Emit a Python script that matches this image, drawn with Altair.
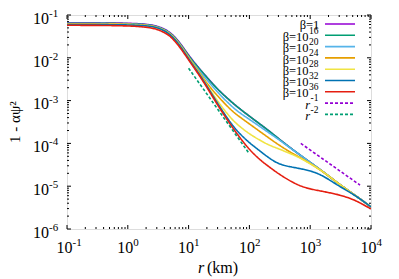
import altair as alt
import pandas as pd

# radius grid (km)
r = [0.1, 0.3, 1, 2, 3, 4, 5, 7, 10, 15, 20, 30, 50, 70, 100, 150, 200, 300,
     500, 700, 1000, 1500, 2000, 3000, 5000, 7000, 10000]

b_1 = [0.0655, 0.0655, 0.0646, 0.0613, 0.0558, 0.0470, 0.0392, 0.0242, 0.0114, 5.6e-3,
       3.52e-3, 1.82e-3, 9.46e-4, 6.35e-4, 4.33e-4, 2.81e-4, 2.07e-4, 1.3e-4, 7.4e-5,
       5.2e-5, 3.6e-5, 2.38e-5, 1.74e-5, 1.12e-5, 6.7e-6, 4.78e-6, 3.27e-6]
b_16 = [0.0643, 0.0643, 0.0633, 0.0600, 0.0545, 0.0458, 0.0380, 0.0234, 0.0110, 5.5e-3,
        3.49e-3, 1.82e-3, 9.46e-4, 6.35e-4, 4.33e-4, 2.81e-4, 2.07e-4, 1.3e-4, 7.4e-5,
        5.2e-5, 3.6e-5, 2.38e-5, 1.74e-5, 1.12e-5, 6.7e-6, 4.78e-6, 3.27e-6]
b_20 = [0.0630, 0.0630, 0.0622, 0.0590, 0.0536, 0.0448, 0.0370, 0.0226, 0.0103, 4.98e-3,
        3.05e-3, 1.55e-3, 7.5e-4, 5.1e-4, 3.65e-4, 2.45e-4, 1.85e-4, 1.25e-4, 7.3e-5,
        5.2e-5, 3.6e-5, 2.38e-5, 1.74e-5, 1.12e-5, 6.7e-6, 4.78e-6, 3.27e-6]
b_24 = [0.0620, 0.0620, 0.0612, 0.0582, 0.0530, 0.0442, 0.0366, 0.0222, 0.0101, 4.65e-3,
        2.5e-3, 1.28e-3, 5.9e-4, 4.1e-4, 2.85e-4, 1.88e-4, 1.40e-4, 9.3e-5, 5.9e-5,
        4.6e-5, 3.4e-5, 2.35e-5, 1.74e-5, 1.12e-5, 6.7e-6, 4.78e-6, 3.27e-6]
b_28 = [0.0610, 0.0610, 0.0602, 0.0575, 0.0525, 0.0436, 0.0360, 0.0218, 9.8e-3, 4.4e-3,
        2.3e-3, 9.6e-4, 3.75e-4, 2.45e-4, 1.66e-4, 1.18e-4, 9.4e-5, 7.5e-5, 5.6e-5,
        4.5e-5, 3.35e-5, 2.36e-5, 1.74e-5, 1.12e-5, 6.7e-6, 4.78e-6, 3.27e-6]
b_32 = [0.0598, 0.0598, 0.0590, 0.0565, 0.0518, 0.0430, 0.0350, 0.0210, 9.37e-3, 4.2e-3,
        2.2e-3, 8.5e-4, 2.85e-4, 1.65e-4, 1.03e-4, 6.6e-5, 4.8e-5, 3.25e-5, 2.8e-5,
        2.55e-5, 2.3e-5, 1.85e-5, 1.45e-5, 1.0e-5, 6.6e-6, 4.78e-6, 3.27e-6]
b_36 = [0.0574, 0.0574, 0.0560, 0.0525, 0.0471, 0.0390, 0.0323, 0.0189, 8.89e-3, 3.9e-3,
        2.05e-3, 7.8e-4, 2.6e-4, 1.35e-4, 7.1e-5, 4.1e-5, 3.0e-5, 1.95e-5, 1.25e-5,
        1.0e-5, 8.6e-6, 7.7e-6, 7.1e-6, 6.3e-6, 5.0e-6, 3.9e-6, 2.95e-6]

# power-law guide lines
r1_r = [700, 6600]
r1_y = [1.0e-4, 1.06e-5]
r2_r = [10, 100]
r2_y = [5.7e-3, 5.7e-5]

labels = ["β=1", "β=10^16", "β=10^20", "β=10^24", "β=10^28", "β=10^32", "β=10^36", "r^-1", "r^-2"]
leg_base = ["β=1", "β=10", "β=10", "β=10", "β=10", "β=10", "β=10", "r", "r"]
leg_sup = ["", "16", "20", "24", "28", "32", "36", "-1", "-2"]
leg_kind = ["plain"] + ["beta"] * 6 + ["r", "r"]
colors = ["#9400D3", "#009E73", "#56B4E9", "#E69F00", "#F0E442", "#0072B2", "#E51E10",
          "#9400D3", "#009E73"]
dashes = [[1, 0]] * 7 + [[3, 2], [3, 2]]

x_major = [0.1, 1, 10, 100, 1000, 10000]
x_sup = ["-1", "0", "1", "2", "3", "4"]
y_major = [1e-6, 1e-5, 1e-4, 1e-3, 1e-2, 1e-1]
y_sup = ["-6", "-5", "-4", "-3", "-2", "-1"]
x_minor = [k * 10.0 ** e for e in range(-1, 4) for k in range(2, 10)]
y_minor = [k * 10.0 ** e for e in range(-6, -1) for k in range(2, 10)]

x_title = ["r", "(km)"]
y_title = "1 - αψ²"

series_vals = [b_1, b_16, b_20, b_24, b_28, b_32, b_36]
rows = []
for lab, vals in zip(labels[:7], series_vals):
    for rv, yv in zip(r, vals):
        rows.append({"series": lab, "r": rv, "y": yv})
for rv, yv in zip(r1_r, r1_y):
    rows.append({"series": labels[7], "r": rv, "y": yv})
for rv, yv in zip(r2_r, r2_y):
    rows.append({"series": labels[8], "r": rv, "y": yv})
df = pd.DataFrame(rows)
leg_df = pd.DataFrame({"series": labels, "base": leg_base, "sup": leg_sup, "kind": leg_kind})

W, H = 304, 214
FONT = "Liberation Serif"

xs = alt.Scale(type="log", domain=[0.1, 10000], nice=False)
ys = alt.Scale(type="log", domain=[1e-6, 0.1], nice=False)
cscale = alt.Scale(domain=labels, range=colors)
dscale = alt.Scale(domain=labels, range=dashes)

layers = []
for lab in labels:
    layers.append(
        alt.Chart(df).transform_filter(alt.datum.series == lab)
        .mark_line(strokeWidth=1.6, interpolate="basis", clip=True)
        .encode(
            x=alt.X("r:Q", scale=xs, axis=None),
            y=alt.Y("y:Q", scale=ys, axis=None),
            color=alt.Color("series:N", scale=cscale, legend=None),
            strokeDash=alt.StrokeDash("series:N", scale=dscale, legend=None),
        )
    )

# inward ticks on all four sides
xt_major = pd.DataFrame({"v": x_major})
xt_minor = pd.DataFrame({"v": x_minor})
yt_major = pd.DataFrame({"v": y_major})
yt_minor = pd.DataFrame({"v": y_minor})


def xticks(d, ln):
    b = alt.Chart(d).mark_rule(color="black", strokeWidth=1).encode(
        x=alt.X("v:Q", scale=xs, axis=None), y=alt.value(H), y2=alt.value(H - ln))
    t = alt.Chart(d).mark_rule(color="black", strokeWidth=1).encode(
        x=alt.X("v:Q", scale=xs, axis=None), y=alt.value(0), y2=alt.value(ln))
    return [b, t]


def yticks(d, ln):
    lft = alt.Chart(d).mark_rule(color="black", strokeWidth=1).encode(
        y=alt.Y("v:Q", scale=ys, axis=None), x=alt.value(0), x2=alt.value(ln))
    rgt = alt.Chart(d).mark_rule(color="black", strokeWidth=1).encode(
        y=alt.Y("v:Q", scale=ys, axis=None), x=alt.value(W), x2=alt.value(W - ln))
    return [lft, rgt]


tick_layers = xticks(xt_major, 4) + xticks(xt_minor, 2) + yticks(yt_major, 4) + yticks(yt_minor, 2)

# tick labels: 10 with a raised exponent
xl_df = pd.DataFrame({"v": x_major, "base": ["10"] * 6, "sup": x_sup})
yl_df = pd.DataFrame({"v": y_major, "base": ["10"] * 6, "sup": y_sup})
txt = dict(font=FONT, color="black", baseline="middle")
xl_base = alt.Chart(xl_df).mark_text(fontSize=16, align="center", dx=-2.5, **txt).encode(
    x=alt.X("v:Q", scale=xs, axis=None), y=alt.value(H + 18.5), text="base:N")
xl_sup = alt.Chart(xl_df).mark_text(fontSize=11, align="left", dx=5.5, **txt).encode(
    x=alt.X("v:Q", scale=xs, axis=None), y=alt.value(H + 13.5), text="sup:N")
yl_base = alt.Chart(yl_df).mark_text(fontSize=16, align="right", dy=3.7, **txt).encode(
    y=alt.Y("v:Q", scale=ys, axis=None), x=alt.value(-18), text="base:N")
yl_sup = alt.Chart(yl_df).mark_text(fontSize=11, align="left", dy=-1.1, **txt).encode(
    y=alt.Y("v:Q", scale=ys, axis=None), x=alt.value(-18), text="sup:N")

# axis titles
xt_r = alt.Chart(pd.DataFrame({"t": [x_title[0]]})).mark_text(
    fontSize=16, align="left", fontStyle="italic", **txt).encode(
    x=alt.value(131), y=alt.value(H + 39), text="t:N")
xt_km = alt.Chart(pd.DataFrame({"t": [x_title[1]]})).mark_text(
    fontSize=16, align="left", **txt).encode(
    x=alt.value(140), y=alt.value(H + 39), text="t:N")
yt = alt.Chart(pd.DataFrame({"t": [y_title]})).mark_text(
    fontSize=15, align="center", angle=270, **txt).encode(
    x=alt.value(-51.6), y=alt.value(H / 2), text="t:N")

main = alt.layer(*tick_layers, *layers, xl_base, xl_sup, yl_base, yl_sup, xt_r, xt_km, yt)

# legend (gnuplot style: label on the left, sample on the right)
lys = alt.Scale(type="point", domain=labels, range=[9, 99.4], padding=0)
ly = alt.Y("series:N", scale=lys, axis=None)
leg_lines = alt.Chart(leg_df).mark_rule(strokeWidth=1.6).encode(
    y=ly, x=alt.value(258), x2=alt.value(288),
    color=alt.Color("series:N", scale=cscale, legend=None),
    strokeDash=alt.StrokeDash("series:N", scale=dscale, legend=None),
)
leg_plain = alt.Chart(leg_df).transform_filter(alt.datum.kind == "plain").mark_text(
    fontSize=12.5, align="right", dy=1.4, **txt).encode(y=ly, x=alt.value(252.3), text="base:N")
leg_bbase = alt.Chart(leg_df).transform_filter(alt.datum.kind == "beta").mark_text(
    fontSize=12.5, align="right", dy=1.6, **txt).encode(y=ly, x=alt.value(241.6), text="base:N")
leg_bsup = alt.Chart(leg_df).transform_filter(alt.datum.kind == "beta").mark_text(
    fontSize=9.5, align="left", dy=-4.8, **txt).encode(y=ly, x=alt.value(242), text="sup:N")
leg_rbase = alt.Chart(leg_df).transform_filter(alt.datum.kind == "r").mark_text(
    fontSize=12.5, align="right", dy=1.6, fontStyle="italic", **txt).encode(
    y=ly, x=alt.value(243), text="base:N")
leg_rsup = alt.Chart(leg_df).transform_filter(alt.datum.kind == "r").mark_text(
    fontSize=9.5, align="left", dy=-4.8, **txt).encode(y=ly, x=alt.value(243.5), text="sup:N")
leg = alt.layer(leg_lines, leg_plain, leg_bbase, leg_bsup, leg_rbase, leg_rsup)

chart = alt.layer(main, leg).resolve_scale(y="independent").properties(
    width=W, height=H,
    autosize=alt.AutoSizeParams(type="none"),
    padding={"left": 59, "top": 7, "right": 20, "bottom": 56},
).configure_view(stroke="black", strokeWidth=1).configure(background="white")

chart.save("out.html", embed_options={"renderer": "svg", "actions": False})
